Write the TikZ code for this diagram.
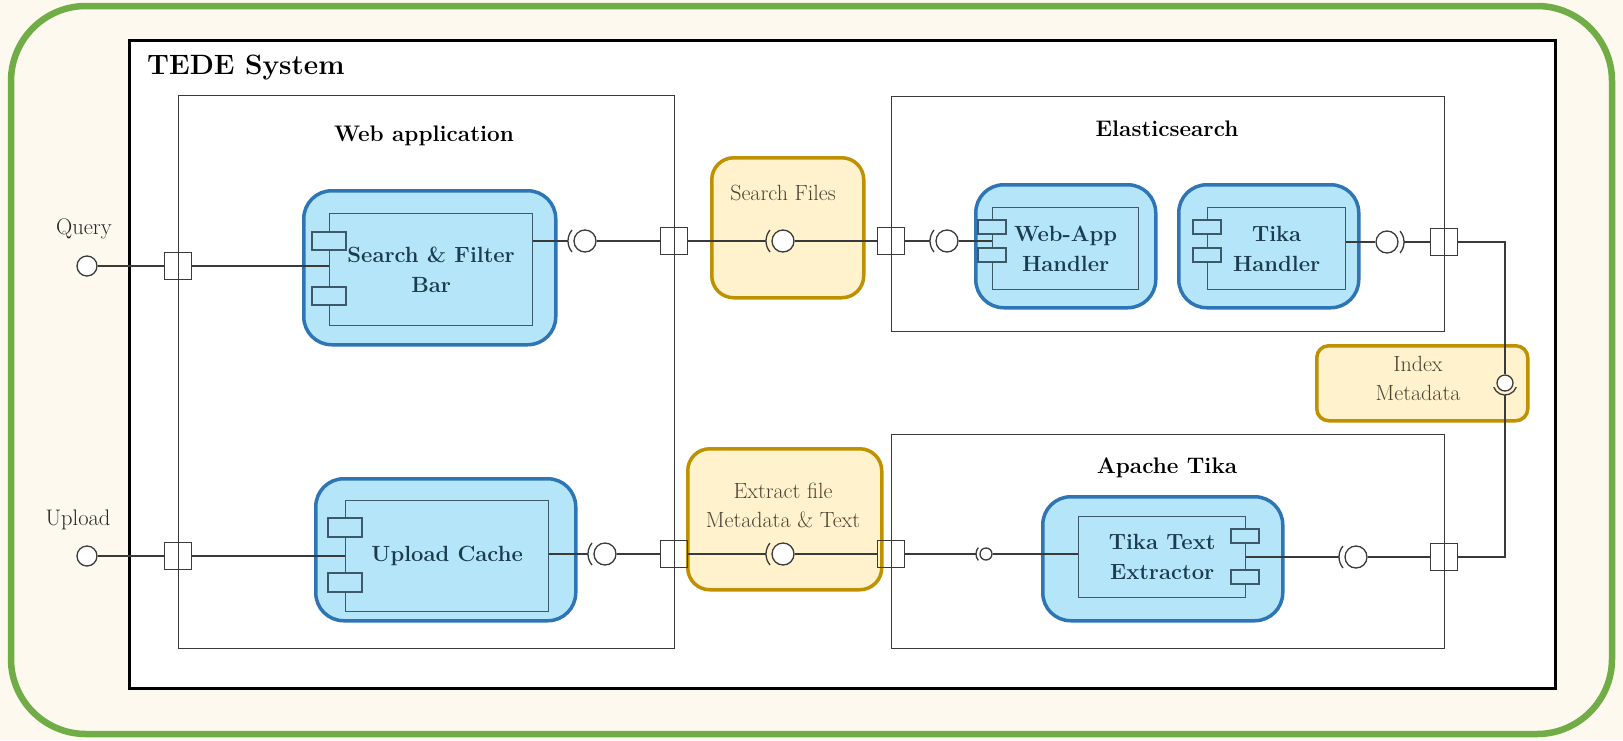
\documentclass[tikz,border=0pt]{standalone}
\usepackage{fontspec}
\usepackage{tikz}
\usetikzlibrary{positioning}

\definecolor{paper}{HTML}{FEF9EE}
\definecolor{framegreen}{HTML}{70AD47}
\definecolor{compfill}{HTML}{B5E5F8}
\definecolor{compline}{HTML}{2E75B6}
\definecolor{comptext}{HTML}{1B3B4F}
\definecolor{ifacefill}{HTML}{FFF2CC}
\definecolor{ifaceline}{HTML}{BF9000}
\definecolor{ifacetext}{HTML}{4A4232}
\definecolor{wiregrey}{HTML}{3A3A3A}

\begin{document}
\begin{tikzpicture}[x=1pt, y=-1pt,
  wire/.style={draw=wiregrey, line width=1.3pt},
  port/.style={wire, minimum size=27pt, inner sep=0pt},
  lolli/.style={wire, circle, fill=white, minimum size=22pt, inner sep=0pt},
  subsys/.style={wire, fill=white, anchor=north west, inner sep=0pt},
  headtxt/.style={inner sep=0pt, font=\fontsize{22.5}{26}\selectfont\bfseries},
  extlabel/.style={inner sep=0pt, text=black!85, font=\fontsize{22.5}{26}\selectfont},
  comp/.style={draw=compline, fill=compfill, line width=3.5pt, rounded corners=28pt,
    anchor=north west, inner sep=0pt},
  partbox/.style={draw=comptext!85, fill=compfill, line width=1.3pt, anchor=north west,
    inner sep=0pt, align=center, text=comptext, font=\fontsize{22}{30}\selectfont\bfseries},
  tab/.style={draw=comptext!85, fill=compfill, line width=1.3pt},
  iface/.style={draw=ifaceline, fill=ifacefill, line width=3.5pt, rounded corners=22pt,
    anchor=north west, inner sep=0pt},
  ifacetxt/.style={text=ifacetext, align=center, font=\fontsize{22}{29}\selectfont}
]
  \useasboundingbox (0,0) rectangle (1623,740);
  \fill[paper] (0,0) rectangle (1623,740);
  \draw[framegreen, line width=6.5pt, rounded corners=75pt] (11,6) rectangle (1612,734);

  % system boundary
  \draw[line width=3pt, fill=white] (129,40) rectangle (1555,688);
  \node[headtxt, anchor=west, font=\fontsize{28}{32}\selectfont\bfseries] (tede) at (147,68) {TEDE System};

  \node[subsys, minimum width=496pt, minimum height=553pt] (web) at (178,95) {};
  \node[subsys, minimum width=553pt, minimum height=235pt] (es) at (891,96) {};
  \node[subsys, minimum width=553pt, minimum height=214pt] (tika) at (891,434) {};
  \node[headtxt] (webT) at (424,136) {Web application};
  \node[headtxt] (esT) at (1167,129) {Elasticsearch};
  \node[headtxt] (tikaT) at (1167,468) {Apache Tika};

  % interfaces
  \node[iface, minimum width=152pt, minimum height=140pt] (sfBox) at (710,156) {};
  \node[iface, minimum width=194pt, minimum height=141pt] (exBox) at (686,447) {};
  \node[iface, minimum width=211pt, minimum height=75pt, rounded corners=12pt] (ixBox) at (1315,344) {};
  \node[ifacetxt] (sfT) at (783,193) {Search Files};
  \node[ifacetxt] (exT) at (783,505) {Extract file\\Metadata \& Text};
  \node[ifacetxt] (ixT) at (1418,378) {Index\\Metadata};

  % components
  \node[comp, minimum width=252pt, minimum height=154pt] (sfbBox) at (302,189) {};
  \node[partbox, minimum width=203pt, minimum height=112pt] (sfb) at (329,213) {Search \& Filter\\Bar};
  \foreach \ty in {241,296}
    \draw[tab] (312,\ty-9) rectangle ++(34,18);

  \node[comp, minimum width=260pt, minimum height=142pt] (ucBox) at (314,477) {};
  \node[partbox, minimum width=203pt, minimum height=111pt] (uc) at (345,500) {Upload Cache};
  \foreach \ty in {527,582}
    \draw[tab] (328,\ty-9) rectangle ++(34,19);

  \node[comp, minimum width=180pt, minimum height=123pt] (wahBox) at (974,183) {};
  \node[partbox, minimum width=146pt, minimum height=82pt] (wah) at (992,207) {Web-App\\Handler};
  \node[comp, minimum width=180pt, minimum height=123pt] (tkhBox) at (1177,183) {};
  \node[partbox, minimum width=138pt, minimum height=82pt] (tkh) at (1207,207) {Tika\\Handler};
  \foreach \tx in {992,1207}
    \foreach \ty in {227,255}
      \draw[tab] (\tx-14,\ty-7) rectangle ++(28,14);

  \node[comp, minimum width=240pt, minimum height=124pt] (tteBox) at (1041,495) {};
  \node[partbox, minimum width=167pt, minimum height=81pt] (tte) at (1078,516) {Tika Text\\Extractor};
  \foreach \ty in {536,577}
    \draw[tab] (1231,\ty-7) rectangle ++(28,14);

  % ports
  \foreach \n/\px/\py in {pQ/178/266, pU/178/556, pS/674/241, pE/674/554,
      pEsL/891/241, pEsR/1444/242, pTkL/891/554, pTkR/1444/557}
    \node[port] (\n) at (\px,\py) {};

  % outside actors
  \node[lolli, minimum size=20pt] (query) at (87,266) {};
  \node[extlabel] (queryT) at (84,229) {Query};
  \node[lolli, minimum size=20pt] (upload) at (87,556) {};
  \node[extlabel] (uploadT) at (78,520) {Upload};

  % assembly connectors
  \node[lolli] (b1) at (585,241) {};
  \node[lolli] (b2) at (783,241) {};
  \node[lolli] (b3) at (947,241) {};
  \node[lolli] (b4) at (1387,242) {};
  \node[lolli] (b5) at (605,554) {};
  \node[lolli] (b6) at (783,554) {};
  \node[lolli, minimum size=12pt] (b7) at (986,554) {};
  \node[lolli] (b8) at (1356,557) {};
  \node[lolli, minimum size=16pt] (b9) at (1505,383) {};

  \foreach \n/\a in {b1/180, b2/180, b3/180, b4/0, b5/180, b6/180, b8/180}
    \draw[wire] (\n.center) ++(\a-40:17pt) arc[start angle=\a-40, end angle=\a+40, radius=17pt];
  \draw[wire] (b7.center) ++(140:10pt) arc[start angle=140, end angle=220, radius=10pt];
  \draw[wire] (b9.center) ++(200:12pt) arc[start angle=200, end angle=340, radius=12pt];

  \draw[wire] (query) -- (pQ) -- (sfb.west |- pQ);
  \draw[wire] (upload) -- (pU) -- (uc.west |- pU);
  \draw[wire] (sfb.east |- b1) -- ([xshift=-17pt]b1.center);
  \draw[wire] (b1) -- (pS);
  \draw[wire] (pS) -- ([xshift=-17pt]b2.center);
  \draw[wire] (b2) -- (pEsL);
  \draw[wire] (pEsL) -- ([xshift=-17pt]b3.center);
  \draw[wire] (b3) -- (wah.west |- b3);
  \draw[wire] (tkh.east |- b4) -- (b4);
  \draw[wire] ([xshift=17pt]b4.center) -- (pEsR);
  \draw[wire] (pEsR) -| (b9);
  \draw[wire] ([yshift=-12pt]b9.center) |- (pTkR);
  \draw[wire] (uc.east |- b5) -- ([xshift=-17pt]b5.center);
  \draw[wire] (b5) -- (pE);
  \draw[wire] (pE) -- ([xshift=-17pt]b6.center);
  \draw[wire] (b6) -- (pTkL);
  \draw[wire] (pTkL) -- ([xshift=-10pt]b7.center);
  \draw[wire] (b7) -- (tte.west |- b7);
  \draw[wire] (tte.east |- b8) -- ([xshift=-17pt]b8.center);
  \draw[wire] (b8) -- (pTkR);
\end{tikzpicture}
\end{document}
